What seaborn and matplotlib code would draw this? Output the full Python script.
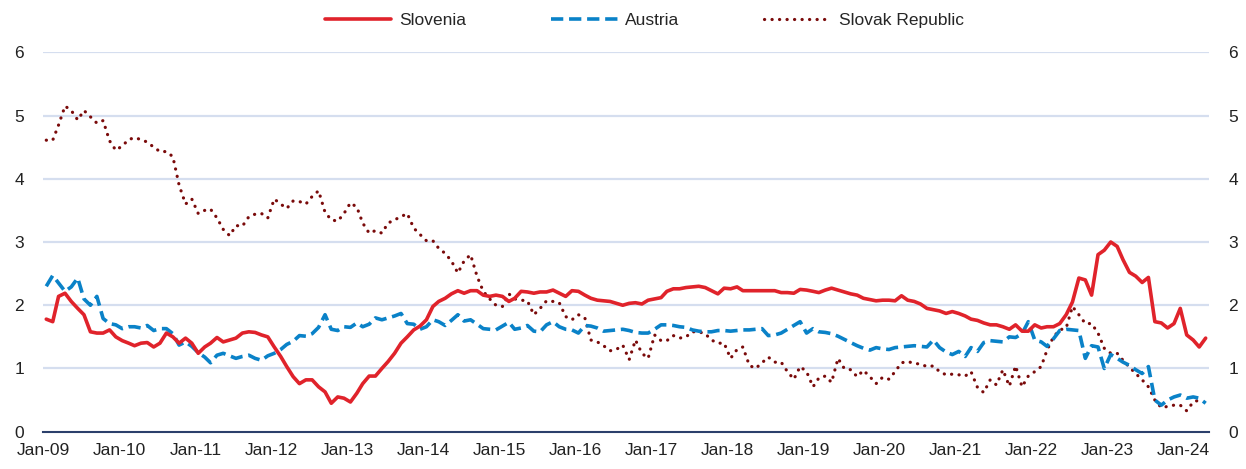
import pandas as pd
import numpy as np
import seaborn as sns
import matplotlib
matplotlib.use("Agg")
from matplotlib import pyplot as plt
import matplotlib.dates as mdates

# monthly series, Jan-09 .. Apr-24 (184 months)
start_month = "2009-01-01"
n_months = 184

slovenia = [
    1.78, 1.74, 2.14, 2.19, 2.06, 1.95, 1.85, 1.58, 1.56, 1.56, 1.61, 1.50,
    1.44, 1.40, 1.36, 1.40, 1.41, 1.34, 1.40, 1.56, 1.50, 1.40, 1.48, 1.40,
    1.24, 1.34, 1.40, 1.49, 1.42, 1.45, 1.48, 1.56, 1.58, 1.57, 1.53, 1.50,
    1.34, 1.19, 1.03, 0.87, 0.76, 0.82, 0.82, 0.71, 0.63, 0.45, 0.55, 0.53,
    0.47, 0.61, 0.76, 0.88, 0.88, 1.00, 1.11, 1.24, 1.40, 1.50, 1.61, 1.67,
    1.77, 1.98, 2.06, 2.11, 2.18, 2.23, 2.19, 2.23, 2.23, 2.16, 2.14, 2.16,
    2.14, 2.06, 2.11, 2.22, 2.21, 2.19, 2.21, 2.21, 2.24, 2.19, 2.14, 2.23,
    2.22, 2.16, 2.11, 2.08, 2.07, 2.06, 2.03, 2.00, 2.03, 2.04, 2.02, 2.08,
    2.10, 2.12, 2.22, 2.26, 2.26, 2.28, 2.29, 2.30, 2.28, 2.23, 2.18, 2.27,
    2.26, 2.29, 2.23, 2.23, 2.23, 2.23, 2.23, 2.23, 2.20, 2.20, 2.19, 2.25,
    2.24, 2.22, 2.20, 2.24, 2.27, 2.24, 2.21, 2.18, 2.16, 2.11, 2.09, 2.07,
    2.08, 2.08, 2.07, 2.15, 2.08, 2.06, 2.02, 1.95, 1.93, 1.91, 1.87, 1.90,
    1.87, 1.83, 1.78, 1.76, 1.72, 1.69, 1.69, 1.66, 1.62, 1.69, 1.59, 1.59,
    1.69, 1.64, 1.66, 1.66, 1.71, 1.85, 2.05, 2.43, 2.40, 2.16, 2.80, 2.87,
    3.00, 2.93, 2.72, 2.52, 2.46, 2.36, 2.44, 1.74, 1.72, 1.64, 1.71, 1.95,
    1.53, 1.45, 1.34, 1.48,
]

austria = [
    2.30, 2.47, 2.35, 2.22, 2.29, 2.43, 2.10, 2.00, 2.14, 1.79, 1.71, 1.69,
    1.63, 1.66, 1.66, 1.64, 1.68, 1.60, 1.63, 1.63, 1.55, 1.37, 1.42, 1.35,
    1.25, 1.18, 1.09, 1.21, 1.24, 1.20, 1.16, 1.19, 1.21, 1.16, 1.13, 1.20,
    1.24, 1.30, 1.38, 1.43, 1.52, 1.51, 1.55, 1.65, 1.85, 1.62, 1.60, 1.66,
    1.65, 1.72, 1.66, 1.70, 1.80, 1.77, 1.80, 1.83, 1.87, 1.71, 1.70, 1.62,
    1.66, 1.77, 1.74, 1.68, 1.76, 1.85, 1.75, 1.77, 1.70, 1.63, 1.62, 1.61,
    1.67, 1.73, 1.62, 1.64, 1.68, 1.59, 1.58, 1.69, 1.74, 1.66, 1.62, 1.61,
    1.56, 1.68, 1.67, 1.64, 1.59, 1.60, 1.61, 1.62, 1.60, 1.57, 1.56, 1.56,
    1.62, 1.69, 1.69, 1.68, 1.66, 1.65, 1.61, 1.59, 1.58, 1.58, 1.60, 1.60,
    1.59, 1.60, 1.61, 1.61, 1.62, 1.63, 1.52, 1.53, 1.56, 1.62, 1.68, 1.74,
    1.56, 1.63, 1.58, 1.57, 1.55, 1.51, 1.46, 1.41, 1.36, 1.32, 1.29, 1.33,
    1.31, 1.30, 1.33, 1.34, 1.35, 1.36, 1.35, 1.34, 1.45, 1.33, 1.26, 1.22,
    1.27, 1.19, 1.33, 1.27, 1.41, 1.44, 1.43, 1.42, 1.50, 1.49, 1.55, 1.74,
    1.45, 1.42, 1.35, 1.47, 1.60, 1.62, 1.61, 1.60, 1.16, 1.36, 1.34, 1.00,
    1.22, 1.16, 1.10, 1.05, 0.98, 0.92, 1.03, 0.50, 0.42, 0.50, 0.55, 0.58,
    0.53, 0.55, 0.53, 0.45,
]

slovak = [
    4.61, 4.61, 4.85, 5.15, 5.08, 4.93, 5.08, 4.98, 4.88, 4.92, 4.60, 4.45,
    4.52, 4.62, 4.65, 4.62, 4.58, 4.50, 4.43, 4.43, 4.35, 3.90, 3.60, 3.68,
    3.45, 3.50, 3.52, 3.38, 3.20, 3.10, 3.26, 3.25, 3.40, 3.44, 3.45, 3.38,
    3.68, 3.60, 3.53, 3.65, 3.64, 3.60, 3.72, 3.81, 3.47, 3.35, 3.33, 3.45,
    3.62, 3.55, 3.30, 3.14, 3.18, 3.14, 3.30, 3.35, 3.40, 3.45, 3.22, 3.12,
    3.02, 3.02, 2.90, 2.82, 2.70, 2.51, 2.70, 2.80, 2.46, 2.22, 2.10, 2.00,
    1.98, 2.18, 2.10, 2.08, 2.07, 1.85, 1.95, 2.07, 2.06, 2.04, 1.82, 1.77,
    1.85, 1.80, 1.45, 1.42, 1.36, 1.28, 1.30, 1.37, 1.14, 1.45, 1.24, 1.16,
    1.53, 1.44, 1.44, 1.52, 1.48, 1.50, 1.58, 1.58, 1.55, 1.45, 1.40, 1.40,
    1.16, 1.30, 1.34, 1.05, 1.00, 1.09, 1.18, 1.10, 1.10, 0.95, 0.83, 1.03,
    0.95, 0.71, 0.85, 0.88, 0.78, 1.16, 1.00, 0.98, 0.87, 0.97, 0.87, 0.76,
    0.86, 0.83, 0.95, 1.09, 1.11, 1.08, 1.07, 1.03, 1.04, 0.95, 0.90, 0.91,
    0.90, 0.88, 0.95, 0.70, 0.62, 0.82, 0.74, 0.98, 0.72, 1.04, 0.71, 0.88,
    0.95, 1.03, 1.29, 1.50, 1.61, 1.64, 1.98, 1.85, 1.71, 1.71, 1.56, 1.32,
    1.24, 1.24, 1.13, 1.02, 0.92, 0.82, 0.71, 0.50, 0.38, 0.40, 0.42, 0.42,
    0.33, 0.47, 0.50, np.nan,
]

y_ticks = [0, 1, 2, 3, 4, 5, 6]

dates = pd.date_range(start_month, periods=n_months, freq="MS") + pd.Timedelta(days=14)
df = pd.DataFrame({"date": dates, "Slovenia": slovenia, "Austria": austria,
                   "Slovak Republic": slovak})

sns.set_style("white")
plt.rcParams["font.family"] = ["Liberation Sans", "DejaVu Sans"]
fsize = 12.5

fig = plt.figure(figsize=(12.46, 4.69), dpi=100)
ax = fig.add_axes([0.0348, 0.0795, 0.9355, 0.809])

grid_col = "#d5deef"
for v in y_ticks[1:]:
    ax.axhline(v, color=grid_col, lw=1.6, zorder=0)

sns.lineplot(data=df, x="date", y="Slovenia", ax=ax, color="#e0232b", lw=2.6,
             label="Slovenia", zorder=3)
sns.lineplot(data=df, x="date", y="Austria", ax=ax, color="#0a82c8", lw=2.6,
             linestyle=(0, (3.4, 1.6)), label="Austria", zorder=2)
sns.lineplot(data=df, x="date", y="Slovak Republic", ax=ax, color="#7a0a0a",
             lw=2.3, linestyle=(0, (0.05, 2.3)), dash_capstyle="round",
             label="Slovak Republic", zorder=1)

ax.set_xlim(pd.Timestamp("2009-01-01"), pd.Timestamp("2024-05-01"))
ax.set_ylim(0, 6)
ax.set_yticks(y_ticks)
ax.set_xlabel("")
ax.set_ylabel("")

ax.xaxis.set_major_locator(mdates.YearLocator(month=1, day=1))
ax.xaxis.set_major_formatter(mdates.DateFormatter("%b-%y"))

for s in ["left", "right", "top"]:
    ax.spines[s].set_visible(False)
ax.spines["bottom"].set_color("#2b3f6b")
ax.spines["bottom"].set_linewidth(1.5)

ax.tick_params(axis="x", direction="in", length=5, width=1.3, color="#2b3f6b",
               labelsize=fsize, pad=8, labelcolor="#222222")
ax.tick_params(axis="y", length=0, labelsize=fsize, pad=14, labelcolor="#222222",
               left=True, right=True, labelleft=True, labelright=True)

handles, labels = ax.get_legend_handles_labels()
ax.get_legend().remove()
fig.legend(handles, labels, loc="center", bbox_to_anchor=(0.517, 0.957), ncol=3,
           frameon=False, fontsize=fsize, handlelength=4.0 * 12 / fsize,
           handletextpad=0.45 * 12 / fsize, columnspacing=5.1 * 12 / fsize)

fig.savefig("out.png", dpi=100)
